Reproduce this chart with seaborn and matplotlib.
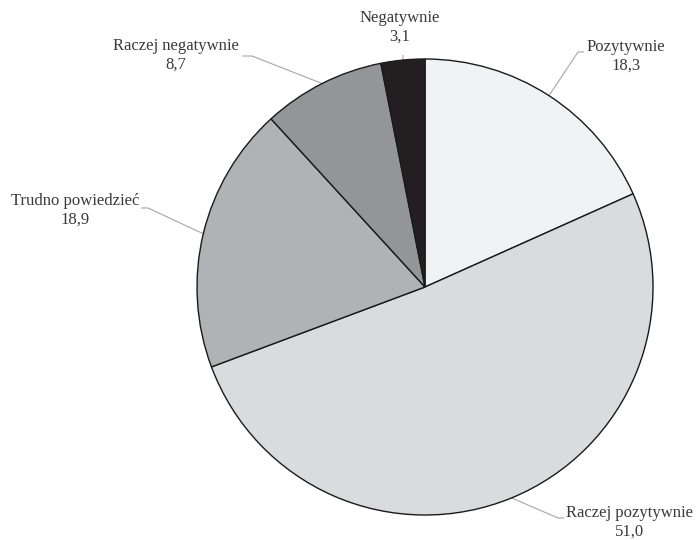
import numpy as np
import matplotlib
matplotlib.use("Agg")
import matplotlib.pyplot as plt
import seaborn as sns

sns.set_style("white")
plt.rcParams["font.family"] = ["Liberation Serif", "DejaVu Serif"]

# Survey answers, clockwise from the top
categories = ["Pozytywnie", "Raczej pozytywnie", "Trudno powiedzieć",
              "Raczej negatywnie", "Negatywnie"]
values = [18.3, 51.0, 18.9, 8.7, 3.1]
value_labels = ["18,3", "51,0", "18,9", "8,7", "3,1"]

colors = sns.color_palette(["#f1f2f3", "#dadbdd", "#b1b2b5", "#939598", "#231f20"])

W, H = 697, 540
fig = plt.figure(figsize=(W / 100, H / 100), dpi=100)
ax = fig.add_axes([0, 0, 1, 1])
ax.set_xlim(0, W)
ax.set_ylim(0, H)
ax.set_aspect("equal")
ax.axis("off")

cx, cy, r = 425, H - 287, 228
wedges, _ = ax.pie(values, colors=colors, startangle=90, counterclock=False,
                   center=(cx, cy), radius=r, frame=True,
                   wedgeprops=dict(edgecolor="#1a1a1a", linewidth=1.0))
ax.set_xlim(0, W)
ax.set_ylim(0, H)
ax.axis("off")

# label centre, elbow of the leader line, end of the short tick next to the text
label_pos = {
    "Pozytywnie":        ((626, 56),  (578, 52),  (584, 52)),
    "Raczej pozytywnie": ((629, 522), (558, 518), (564, 518)),
    "Trudno powiedzieć": ((75, 210),  (148, 208), (141, 208)),
    "Raczej negatywnie": ((176, 55),  (252, 56),  (242, 56)),
    "Negatywnie":        ((400, 27),  (403, 55),  (403, 55)),
}

text_color = "#3a3a3a"
line_color = "#a6a6a6"

for w, name, vl in zip(wedges, categories, value_labels):
    mid = np.deg2rad((w.theta1 + w.theta2) / 2)
    px, py = cx + r * np.cos(mid), cy + r * np.sin(mid)
    (tx, ty), (ex, ey), (sx, sy) = label_pos[name]
    ax.plot([px, ex, sx], [py, H - ey, H - sy], color=line_color, lw=0.8,
            zorder=0.5, solid_capstyle="butt")
    ax.text(tx, H - ty, f"{name}\n{vl}", ha="center", va="center",
            fontsize=12, color=text_color, linespacing=1.2)

fig.savefig("out.png", dpi=100, facecolor="white")
